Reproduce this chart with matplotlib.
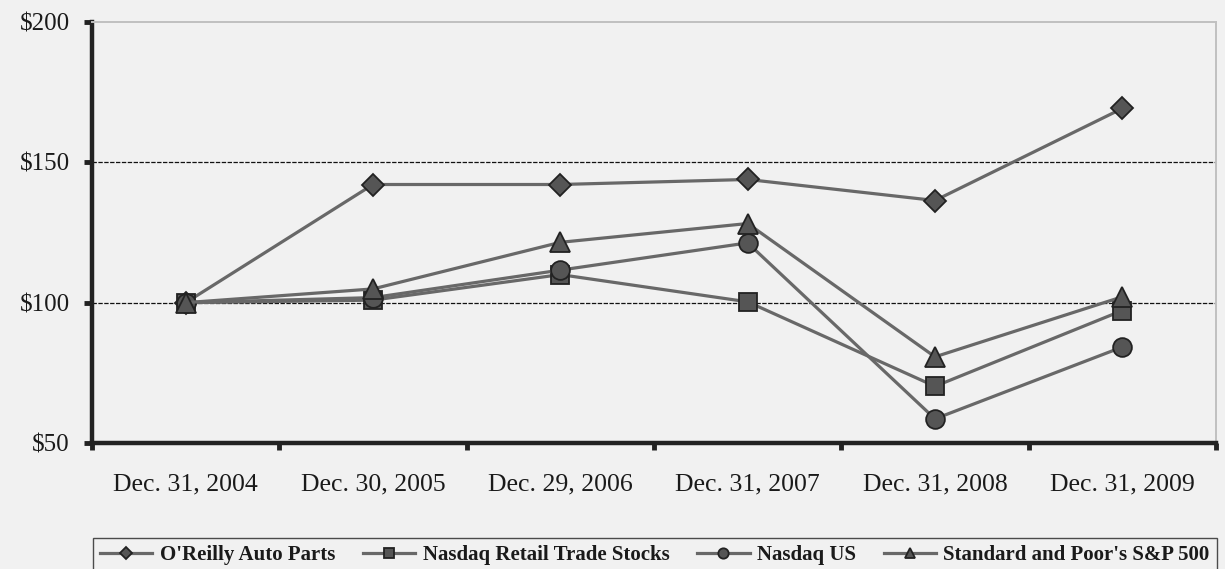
import matplotlib
matplotlib.use("Agg")
import matplotlib.pyplot as plt

plt.rcParams['font.family'] = ['Liberation Serif', 'DejaVu Serif']

categories = ["Dec. 31, 2004", "Dec. 30, 2005", "Dec. 29, 2006",
              "Dec. 31, 2007", "Dec. 31, 2008", "Dec. 31, 2009"]
oreilly = [100, 142.1, 142.1, 143.9, 136.4, 169.2]
nasdaq_retail = [100, 100.9, 110.0, 100.3, 70.2, 97.2]
nasdaq_us = [100, 101.8, 111.6, 121.3, 58.6, 84.2]
sp500 = [100, 104.9, 121.5, 128.2, 80.7, 102.1]
series_names = ["O'Reilly Auto Parts", "Nasdaq Retail Trade Stocks",
                "Nasdaq US", "Standard and Poor's S&P 500"]
yticks = [50, 100, 150, 200]
ytick_labels = ["$50", "$100", "$150", "$200"]

bg = "#f1f1f1"
fig = plt.figure(figsize=(12.25, 5.69), dpi=100, facecolor=bg)
ax = fig.add_axes([92/1225, 1-443/569, (1216-92)/1225, (443-22)/569])
ax.set_facecolor(bg)

x = list(range(len(categories)))
line_kw = dict(color="#686868", linewidth=2.3, markerfacecolor="#555555",
               markeredgecolor="#222222", markeredgewidth=1.3, zorder=3)
markers = ["D", "s", "o", "^"]
sizes = [11, 13.5, 13.5, 14]
handles = []
for vals, m, ms, name in zip([oreilly, nasdaq_retail, nasdaq_us, sp500],
                             markers, sizes, series_names):
    h, = ax.plot(x, vals, marker=m, markersize=ms, label=name, **line_kw)
    handles.append(h)

ax.set_xlim(-0.5, len(categories) - 0.5)
ax.set_ylim(50, 200)
ax.set_yticks(yticks)
ax.set_yticklabels(ytick_labels)
ax.set_xticks([i - 0.5 for i in range(len(categories) + 1)], minor=False)
ax.set_xticklabels([])
ax.set_xticks(x, minor=True)
ax.set_xticklabels(categories, minor=True)
ax.tick_params(axis='x', which='minor', length=0, pad=22, labelsize=18.5, colors="#1a1a1a")
ax.tick_params(axis='x', which='major', length=5, width=3.5, direction='out', color="#222222")
ax.tick_params(axis='y', length=6, width=3.5, direction='out', color="#222222",
               labelsize=18, labelcolor="#1a1a1a", pad=10)

for yv in [100, 150]:
    ax.axhline(yv, color="#111111", linewidth=0.9, linestyle=(0, (3.5, 1.2)), zorder=1)

for s in ["left", "bottom"]:
    ax.spines[s].set_color("#222222")
    ax.spines[s].set_linewidth(3.2)
for s in ["top", "right"]:
    ax.spines[s].set_color("#c0c0c0")
    ax.spines[s].set_linewidth(1.4)

leg = fig.legend(handles=handles, loc="lower left",
                 bbox_to_anchor=(93/1225, -0.006),
                 ncol=4, frameon=True, fancybox=False,
                 prop={'family': 'Liberation Serif', 'weight': 'bold', 'size': 15},
                 handlelength=2.5, handletextpad=0.35,
                 columnspacing=1.35, borderaxespad=0, borderpad=0.35,
                 markerscale=0.55)
leg.get_frame().set_edgecolor("#222222")
leg.get_frame().set_linewidth(1.0)
leg.get_frame().set_facecolor(bg)
for t in leg.get_texts():
    t.set_color("#1a1a1a")

fig.savefig("out.png", dpi=100, facecolor=bg)
